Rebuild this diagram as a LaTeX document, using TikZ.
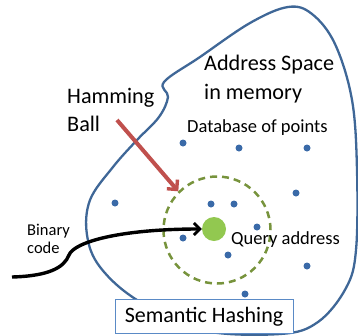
\documentclass[tikz,border=0pt]{standalone}
\usepackage{fontspec}
\setmainfont{Carlito}
\usetikzlibrary{arrows.meta}
\definecolor{outlineblue}{HTML}{3F6797}
\definecolor{dotblue}{HTML}{3A6AA8}
\definecolor{ballgreen}{HTML}{77933C}
\definecolor{querygreen}{HTML}{92C850}
\definecolor{arrowred}{HTML}{C0504D}
\definecolor{boxblue}{HTML}{5A8AC6}
\tikzset{
  dot/.style={circle,fill=dotblue,inner sep=0pt,minimum size=7pt},
  lbl/.style={inner sep=0pt,align=left,anchor=north west},
}
\begin{document}
\begin{tikzpicture}[x=1pt,y=-1pt]
\useasboundingbox (0,0) rectangle (358,335);
% address space outline
\draw[outlineblue,line width=2.3pt] plot[smooth cycle,tension=0.6] coordinates {
 (137,300) (100,267) (87,235) (90,200) (113,167) (137,140) (159,117) (168,97)
 (164,82) (200,57) (250,23) (288,7) (312,14) (335,44) (352,100) (357,170)
 (356,250) (346,288) (318,322) (280,334) (200,330)};
% texts
\node[lbl,font=\fontsize{22.2}{28.5}\selectfont] (as) at (204,55) {Address Space\\in memory};
\node[lbl,font=\fontsize{22.2}{28.5}\selectfont] (hb) at (67,88) {Hamming\\Ball};
\node[lbl,font=\fontsize{18.5}{20}\selectfont] (db) at (187,119) {Database of points};
% dots
\node[dot] (d1) at (183,143) {};
\node[dot] (d2) at (239,148) {};
\node[dot] (d3) at (307,148) {};
\node[dot] (d4) at (296,193) {};
\node[dot] (d5) at (115,203) {};
\node[dot] (d6) at (211,204) {};
\node[dot] (d7) at (234,204) {};
\node[dot] (d8) at (257,227) {};
\node[dot] (d9) at (183,238) {};
\node[dot] (d10) at (228,255) {};
\node[dot] (d11) at (307,266) {};
\node[dot] (d12) at (245,294) {};
% hamming ball
\node[circle,draw=ballgreen,line width=2.5pt,dash pattern=on 7pt off 5pt,minimum width=107pt,inner sep=0pt] (ball) at (217,230) {};
% query
\node[circle,fill=querygreen,minimum size=24pt,inner sep=0pt] (q) at (214,229) {};
\node[lbl,font=\fontsize{18.5}{20}\selectfont] (qa) at (231,231) {Query address};
% binary code
\node[lbl,font=\fontsize{16.5}{17.5}\selectfont] (bc) at (27,224) {Binary\\code};
\coordinate (bstart) at (12,277);
\draw[line width=3.4pt,-{Straight Barb[length=6pt,width=12pt,line width=2.8pt]}]
  (bstart) .. controls (48,276) and (64,268) .. (69,255)
  .. controls (74,242) and (120,229) .. (q.west);
% red arrow
\coordinate (rstart) at (117,120);
\draw[arrowred,line width=4pt,-{Straight Barb[length=7pt,width=14pt,line width=3.4pt]}]
  (rstart) -- (ball.135);
% box
\node[draw=boxblue,line width=1pt,fill=white,minimum width=178pt,minimum height=34pt,inner sep=0pt,font=\fontsize{22}{24}\selectfont] (sh) at (204,316.5) {Semantic Hashing};
\end{tikzpicture}
\end{document}
